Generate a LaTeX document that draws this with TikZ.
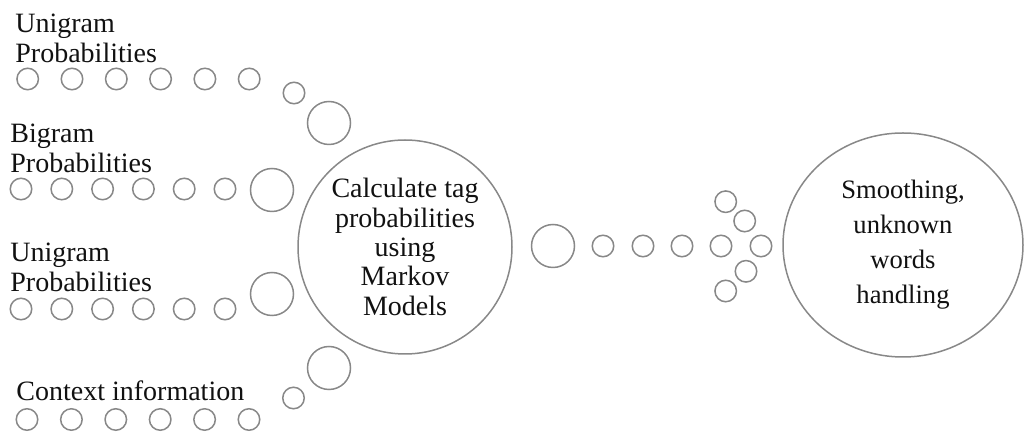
\documentclass[tikz,border=0pt]{standalone}
\usepackage{fontspec}
\setmainfont{Liberation Serif}
\usepackage{tikz}
\usetikzlibrary{shapes.geometric}
\definecolor{cring}{HTML}{888888}
\definecolor{cink}{HTML}{111111}
\tikzset{bead/.style={circle,draw=cring,line width=0.75pt,minimum size=10.75pt,inner sep=0pt},
  bubble/.style={bead,minimum size=21.5pt},
  lbl/.style={anchor=base west,align=left,inner sep=0pt,text=cink,font=\fontsize{14}{15}\selectfont}}

\begin{document}
\begin{tikzpicture}[x=0.5pt,y=-0.5pt]
\useasboundingbox (0,0) rectangle (1024,432);
% feature rows
\foreach \r/\y/\xa/\dx in {a/79/27.7/44.3, b/189/21/40.8, c/309/21/40.8, d/419.5/27/44.4}{
  \foreach \i in {0,...,5}
    \node[bead] (\r\i) at ({\xa+\i*\dx},\y) {};
}
\node[lbl] (ua) at (15,63) {Unigram\\Probabilities};
\node[lbl] (bi) at (10,173) {Bigram\\Probabilities};
\node[lbl] (ub) at (10,292) {Unigram\\Probabilities};
\node[lbl] (ctx) at (16,401) {Context information};
\node[bead] (a6) at (294,93) {};
\node[bubble] (a7) at (329,123) {};
\node[bubble] (b6) at (272,190) {};
\node[bubble] (c6) at (272,294) {};
\node[bubble] (d7) at (329,368) {};
\node[bead] (d6) at (293.5,398) {};
% main step
\node[circle,draw=cring,line width=0.75pt,minimum size=107pt,inner sep=0pt,align=center,
  text=cink,font=\fontsize{14}{14.65}\selectfont] (hmm) at (405,247)
  {Calculate tag\\probabilities\\using\\Markov\\Models};
\node[bubble] (o0) at (553,246) {};
\foreach \i/\x in {1/603,2/643,3/682,4/721,5/761}
  \node[bead] (o\i) at (\x,246) {};
\foreach \n/\x/\y in {h1/725.7/201.7, h2/744.7/221, h3/746/271.3, h4/725.7/291}
  \node[bead] (\n) at (\x,\y) {};
\node[ellipse,draw=cring,line width=0.75pt,minimum width=120pt,minimum height=112pt,inner sep=0pt,
  align=center,text=cink,font=\fontsize{13.3}{17.5}\selectfont] (smooth) at (903,245)
  {Smoothing,\\unknown\\words\\handling};
\end{tikzpicture}
\end{document}
